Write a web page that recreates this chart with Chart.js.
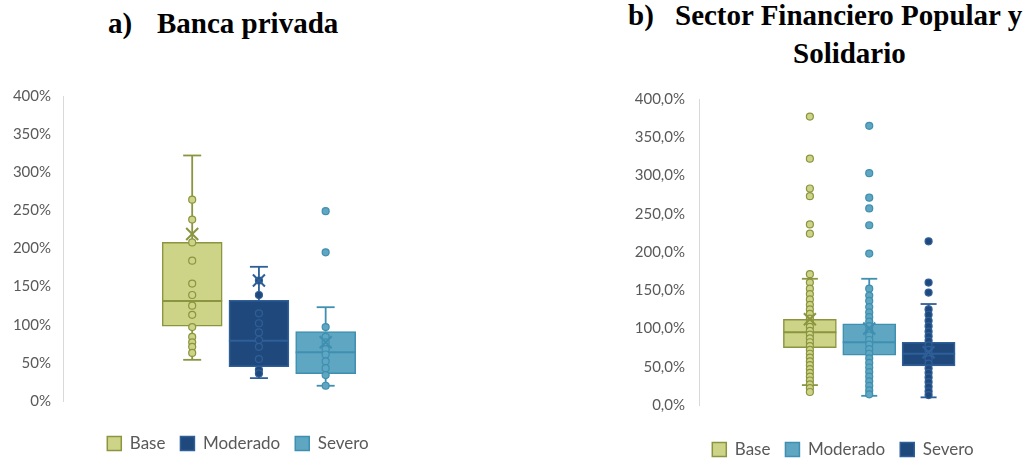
<!DOCTYPE html>
<html lang="es">
<head>
<meta charset="utf-8">
<title>Pruebas de estrés - diagramas de caja</title>
<script src="https://cdn.jsdelivr.net/npm/chart.js"></script>
<style>
  html, body { margin: 0; padding: 0; width: 1032px; height: 460px; overflow: hidden; background: #fff; }
  .titulo {
    position: absolute;
    font-family: "Liberation Serif", "Times New Roman", serif;
    font-weight: bold;
    font-size: 29px;
    line-height: 29px;
    color: #000;
    white-space: nowrap;
  }
  .panel { position: absolute; }
</style>
</head>
<body>
<div class="titulo" style="left:108px;top:9px">a)</div>
<div class="titulo" style="left:157px;top:9px">Banca privada</div>
<div class="titulo" style="left:628px;top:1px">b)</div>
<div class="titulo" style="left:675px;top:1px">Sector Financiero Popular y</div>
<div class="titulo" style="left:793px;top:39px">Solidario</div>

<div class="panel" style="left:3px;top:75px;width:480px;height:387px"><canvas id="chart-banca"></canvas></div>
<div class="panel" style="left:620px;top:76px;width:446px;height:392px"><canvas id="chart-sfps"></canvas></div>

<script>
// ===========================
// Diagramas de caja (Chart.js)
// ===========================

// ------ Datos ------
const escenarios = ["Base", "Moderado", "Severo"];
const ticksPct = [0, 50, 100, 150, 200, 250, 300, 350, 400];

// a) Banca privada (en %)
const bancaMin     = [54, 30, 20];
const bancaQ1      = [98, 45, 36];
const bancaMediana = [131, 79, 64];
const bancaQ3      = [208, 132, 91];
const bancaMax     = [322, 176, 123];
const bancaMedia   = [219, 158, 77];
const bancaPuntosBase     = [264, 238, 208, 184, 154, 139, 125, 113, 97, 84, 77, 71, 63];
const bancaPuntosModerado = [158, 139, 115, 102, 90, 80, 71, 55, 41, 36];
const bancaPuntosSevero   = [249, 195, 97, 84, 77, 68, 61, 52, 43, 34, 20];

// b) Sector Financiero Popular y Solidario (en %)
const sfpsMin     = [26, 12, 10];
const sfpsQ1      = [75, 65, 51];
const sfpsMediana = [95, 82, 67];
const sfpsQ3      = [112, 106, 82];
const sfpsMax     = [165, 165, 132];
const sfpsMedia   = [112, 100, 69];
const sfpsPuntosBase = [377, 322, 283, 273, 236, 224, 171, 160, 152, 145, 138, 131, 125, 119, 113,
  108, 102, 97, 92, 87, 82, 77, 72, 67, 62, 57, 52, 47, 42, 37, 32, 27, 22, 17];
const sfpsPuntosModerado = [365, 303, 271, 257, 235, 198, 152, 143, 136, 128, 121, 115, 109, 103,
  97, 91, 85, 79, 73, 67, 61, 55, 49, 43, 37, 31, 25, 19, 14];
const sfpsPuntosSevero = [214, 160, 147, 125, 118, 110, 103, 96, 90, 84, 78, 72, 66, 60, 54, 48,
  42, 36, 30, 24, 18, 13];

// ------ Estilos ------
const oliva   = { fill: "#cdd487", borde: "#8b9540" };
const marino  = { fill: "#1f497d", borde: "#2f5f98" };
const celeste = { fill: "#5ea6c1", borde: "#3f8fb0" };

Chart.defaults.font.family = "Lato, 'Open Sans', sans-serif";

// ------ Construcción de datasets ------
function datasetsCaja(p) {
  const ds = [];
  escenarios.forEach((nombre, i) => {
    const x = i + 1;
    const c = p.colores[i];
    // caja Q1-Q3
    ds.push({
      type: "bar", label: nombre,
      data: [{ x, y: [p.q1[i], p.q3[i]] }],
      backgroundColor: c.fill, borderColor: c.borde, borderWidth: 1.5,
      borderSkipped: false, barThickness: p.ancho, grouped: false, order: 5,
    });
    // bigotes con topes
    ds.push({
      type: "line", label: "bigote",
      data: [{ x, y: p.min[i] }, { x, y: p.q1[i] }, { x, y: null }, { x, y: p.q3[i] }, { x, y: p.max[i] }],
      borderColor: c.borde, borderWidth: 1.8, spanGaps: false,
      pointStyle: "line", pointRadius: [p.tope, 0, 0, 0, p.tope],
      pointBorderColor: c.borde, pointBorderWidth: 1.8, order: 4,
    });
    // mediana
    ds.push({
      type: "scatter", label: "mediana",
      data: [{ x, y: p.mediana[i] }],
      pointStyle: "line", pointRadius: p.ancho / 2,
      pointBorderColor: c.borde, pointBorderWidth: 2, order: 3,
    });
    // observaciones
    ds.push({
      type: "scatter", label: "puntos",
      data: p.puntos[i].map(v => ({ x, y: v })),
      pointRadius: 3.5, pointBackgroundColor: c.fill,
      pointBorderColor: c.borde, pointBorderWidth: 1.2, order: 2,
    });
    // media
    ds.push({
      type: "scatter", label: "media",
      data: [{ x, y: p.media[i] }],
      pointStyle: "crossRot", pointRadius: 8.5,
      pointBorderColor: c.borde, pointBorderWidth: 2, order: 1,
    });
  });
  return ds;
}

function crearGrafico(id, p) {
  const ctx = document.getElementById(id).getContext("2d");
  return new Chart(ctx, {
    type: "bar",
    data: { datasets: datasetsCaja(p) },
    options: {
      responsive: true,
      maintainAspectRatio: false,
      animation: false,
      events: [],
      layout: { padding: p.padding, autoPadding: false },
      plugins: {
        tooltip: { enabled: false },
        legend: {
          position: "bottom",
          labels: {
            boxWidth: 14, boxHeight: 14, padding: 15,
            color: "#595959", font: { size: 17 },
            filter: (item, data) => data.datasets[item.datasetIndex].type === "bar",
          },
        },
      },
      scales: {
        // eje x oculto: solo deja espacio entre el área y la leyenda
        x: {
          type: "linear", min: p.xMin, max: p.xMax,
          grid: { display: false, drawTicks: false },
          border: { display: false },
          ticks: { display: false },
          afterFit: s => { s.height = p.espacioLeyenda; },
        },
        y: {
          min: 0, max: 400,
          grid: { display: false, drawTicks: false },
          border: { display: true, color: "#d9d9d9", width: 1 },
          ticks: { color: "#595959", font: { size: 15 }, padding: p.tickPad, callback: p.formato },
          afterBuildTicks: s => { s.ticks = ticksPct.map(v => ({ value: v })); },
          afterFit: s => { s.width = p.ejeAncho; },
        },
      },
    },
  });
}

// ------ Inicialización ------
crearGrafico("chart-banca", {
  colores: [oliva, marino, celeste],
  q1: bancaQ1, q3: bancaQ3, min: bancaMin, max: bancaMax,
  mediana: bancaMediana, media: bancaMedia,
  puntos: [bancaPuntosBase, bancaPuntosModerado, bancaPuntosSevero],
  ancho: 60, tope: 9,
  xMin: -0.424, xMax: 4.696,
  ejeAncho: 60, tickPad: 12, espacioLeyenda: 19,
  padding: { top: 0, right: 10, bottom: 0 },
  formato: v => v + "%",
});

crearGrafico("chart-sfps", {
  colores: [oliva, celeste, marino],
  q1: sfpsQ1, q3: sfpsQ3, min: sfpsMin, max: sfpsMax,
  mediana: sfpsMediana, media: sfpsMedia,
  puntos: [sfpsPuntosBase, sfpsPuntosModerado, sfpsPuntosSevero],
  ancho: 53, tope: 8,
  xMin: -0.353, xMax: 4.80,
  ejeAncho: 79, tickPad: 14, espacioLeyenda: 21,
  padding: { top: 0, right: 0, bottom: 0 },
  formato: v => v.toFixed(1).replace(".", ",") + "%",
});
</script>
</body>
</html>
